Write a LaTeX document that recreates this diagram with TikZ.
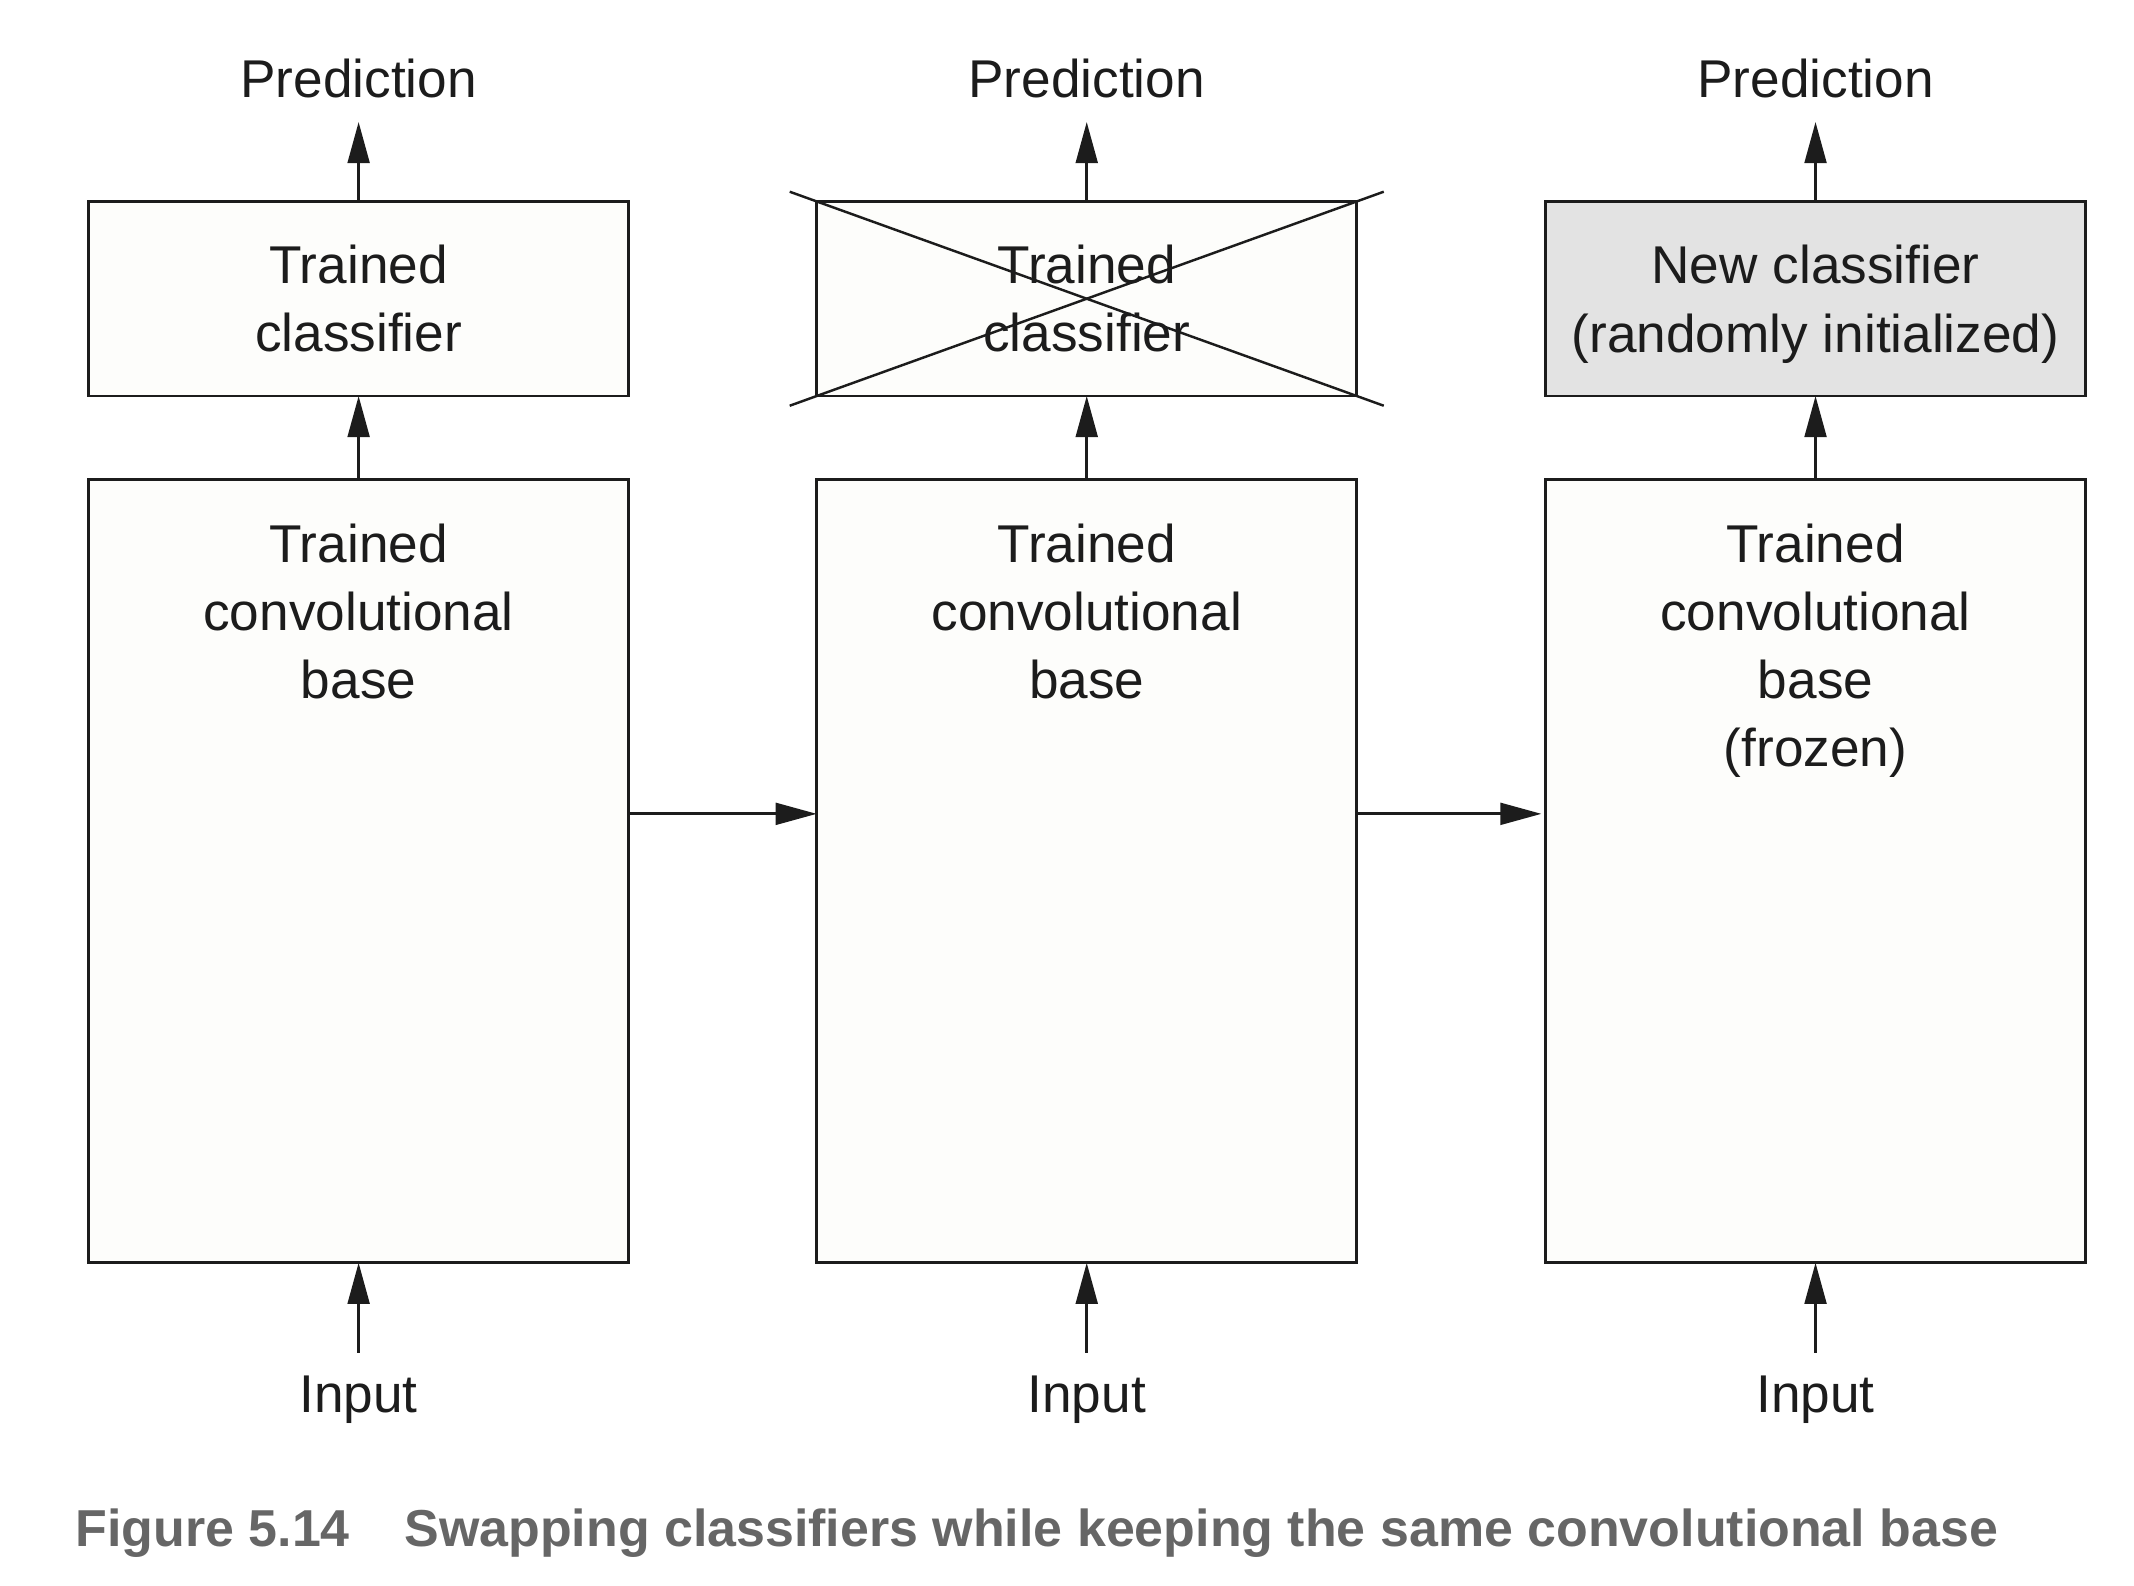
\documentclass[tikz,border=0pt]{standalone}
\usepackage{fontspec}
\setmainfont{Liberation Sans}
\newfontfamily\capfont{Liberation Sans}
\usepackage{xcolor}
\usepackage{tikz}
\usetikzlibrary{calc}
\usetikzlibrary{arrows.meta}
\definecolor{ink}{RGB}{28,28,28}
\definecolor{paper}{RGB}{253,253,251}
\definecolor{newfill}{RGB}{227,227,227}
\definecolor{capgray}{RGB}{102,102,102}
\tikzset{ every node/.style = {font=\fontsize{15.15pt}{19.4pt}\selectfont, text=ink} }
\tikzset{ layer_box/.style = {rectangle, draw=ink, line width=0.85pt, fill=paper, minimum width=5.407cm, inner sep=0pt, outer sep=0pt, align=center} }
\tikzset{ clf_box/.style = {layer_box, minimum height=1.948cm} }
\tikzset{ base_box/.style = {layer_box, minimum height=7.845cm} }
\tikzset{ base_text/.style = {anchor=north, inner sep=0pt, align=center} }
\tikzset{ io_label/.style = {inner sep=6.5pt, anchor=base} }
\tikzset{ flow/.style = {-{Triangle[length=11.7pt,width=6.2pt]}, line width=0.8pt, draw=ink} }
\tikzset{ strike/.style = {line width=0.7pt, draw=ink} }

\begin{document}
\begin{tikzpicture}[x=0.01362cm, y=-0.01362cm]
        \useasboundingbox (0, 0) rectangle (1568, 1165.35);
        % left: original model
        \node [io_label] (P1) at (263.5, 72) {Prediction};
        \node [clf_box] (C1) at (263.5, 219.5) {Trained\\classifier};
        \node [base_box] (B1) at (263.5, 640) {};
        \node [base_text] (T1) at ($(B1.north)+(0, 32)$) {Trained\\convolutional\\base};
        \node [io_label] (I1) at (263.5, 1038) {Input};
        % middle: classifier thrown away
        \node [io_label] (P2) at (798.5, 72) {Prediction};
        \node [clf_box] (C2) at (798.5, 219.5) {Trained\\classifier};
        \node [base_box] (B2) at (798.5, 640) {};
        \node [base_text] (T2) at ($(B2.north)+(0, 32)$) {Trained\\convolutional\\base};
        \node [io_label] (I2) at (798.5, 1038) {Input};
        % right: new classifier on frozen base
        \node [io_label] (P3) at (1334, 72) {Prediction};
        \node [clf_box, fill=newfill, text depth=0pt] (C3) at (1334, 219.5) {New classifier\\(randomly initialized)};
        \node [base_box] (B3) at (1334, 640) {};
        \node [base_text] (T3) at ($(B3.north)+(0, 32)$) {Trained\\convolutional\\base\\(frozen)};
        \node [io_label] (I3) at (1334, 1038) {Input};

        \draw [flow] (C1) to (P1);
        \draw [flow] (B1) to (C1);
        \draw [flow] (I1) to (B1);
        \draw [flow] (C2) to (P2);
        \draw [flow] (B2) to (C2);
        \draw [flow] (I2) to (B2);
        \draw [flow] (C3) to (P3);
        \draw [flow] (B3) to (C3);
        \draw [flow] (I3) to (B3);
        \draw [flow] ($(B1.east)+(0, -42)$) to ($(B2.west)+(0, -42)$);
        \draw [flow] ($(B2.east)+(0, -42)$) to ($(B3.west)+(-3, -42)$);

        \draw [strike] ($(C2.north west)!-0.05!(C2.south east)$) to ($(C2.north west)!1.05!(C2.south east)$);
        \draw [strike] ($(C2.south west)!-0.05!(C2.north east)$) to ($(C2.south west)!1.05!(C2.north east)$);

        \node [anchor=base west, inner sep=0pt, text=capgray, font=\capfont\bfseries\fontsize{14.8pt}{18pt}\selectfont] (cap) at (55, 1136) {Figure 5.14\hspace{1.05em}Swapping classifiers while keeping the same convolutional base};
\end{tikzpicture}
\end{document}
